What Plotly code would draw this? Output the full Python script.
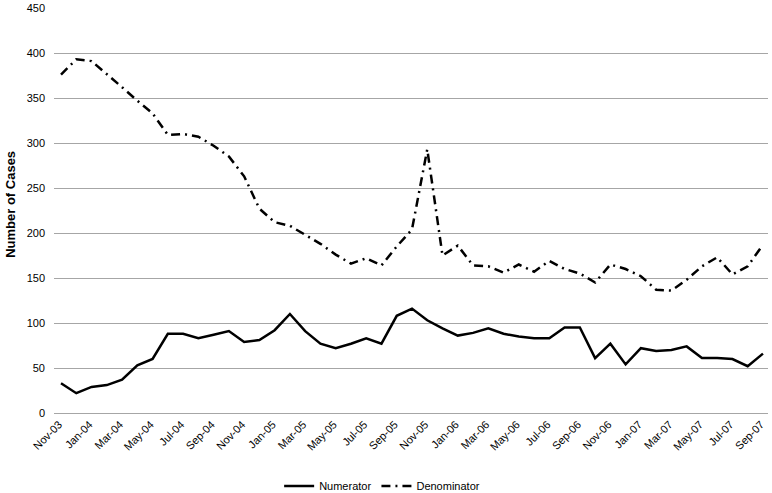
import plotly.graph_objects as go

months = ["Nov-03", "Dec-03", "Jan-04", "Feb-04", "Mar-04", "Apr-04", "May-04", "Jun-04",
          "Jul-04", "Aug-04", "Sep-04", "Oct-04", "Nov-04", "Dec-04", "Jan-05", "Feb-05",
          "Mar-05", "Apr-05", "May-05", "Jun-05", "Jul-05", "Aug-05", "Sep-05", "Oct-05",
          "Nov-05", "Dec-05", "Jan-06", "Feb-06", "Mar-06", "Apr-06", "May-06", "Jun-06",
          "Jul-06", "Aug-06", "Sep-06", "Oct-06", "Nov-06", "Dec-06", "Jan-07", "Feb-07",
          "Mar-07", "Apr-07", "May-07", "Jun-07", "Jul-07", "Aug-07", "Sep-07"]

numerator = [33, 22, 29, 31, 37, 53, 60, 88, 88, 83, 87, 91, 79, 81, 92, 110,
             91, 77, 72, 77, 83, 77, 108, 116, 103, 94, 86, 89, 94, 88, 85, 83,
             83, 95, 95, 61, 77, 54, 72, 69, 70, 74, 61, 61, 60, 52, 66]

denominator = [376, 393, 391, 377, 362, 347, 333, 309, 310, 307, 297, 285, 263, 227, 212, 208,
               198, 188, 176, 166, 172, 164, 185, 204, 293, 175, 186, 164, 163, 156, 165, 157,
               169, 160, 155, 145, 165, 160, 152, 137, 136, 148, 163, 173, 154, 163, 187]

tick_labels = months[::2]

x_idx = list(range(len(months)))
font_family = "Liberation Sans, Arial, sans-serif"

fig = go.Figure()
fig.add_trace(go.Scatter(
    x=x_idx, y=numerator, mode="lines", name="Numerator",
    line=dict(color="black", width=2.5),
))
fig.add_trace(go.Scatter(
    x=x_idx, y=denominator, mode="lines", name="Denominator",
    line=dict(color="black", width=2.5, dash="9px,5px,2px,5px"),
))

fig.update_layout(
    width=772, height=493,
    margin=dict(l=54, r=4, t=8, b=80, autoexpand=False),
    paper_bgcolor="white", plot_bgcolor="white",
    font=dict(family=font_family, size=11, color="black"),
    showlegend=True,
    legend=dict(orientation="h", xref="container", x=0.495, xanchor="center",
                y=-0.18, yanchor="middle",
                font=dict(size=11), itemwidth=30, bgcolor="rgba(0,0,0,0)"),
    xaxis=dict(
        range=[-0.46, 46.33], automargin=False,
        tickvals=x_idx[::2], ticktext=tick_labels,
        tickangle=-45, showgrid=False, zeroline=False,
        showline=False, ticks="", tickfont=dict(size=11),
        ticklabelshift=-2, ticklabelstandoff=2,
    ),
    yaxis=dict(
        range=[0, 450], dtick=50, showgrid=True, gridcolor="#a6a6a6", gridwidth=1,
        zeroline=True, zerolinecolor="#a6a6a6", zerolinewidth=1, automargin=False,
        showline=False, ticks="", tickfont=dict(size=11), ticklabelstandoff=8,
    ),
    annotations=[dict(
        text="<b>Number of Cases</b>", textangle=-90,
        xref="paper", yref="paper", x=0, y=0.514, xshift=-43,
        xanchor="center", yanchor="middle", showarrow=False,
        font=dict(size=13, family=font_family, color="black"),
    )],
)

fig.write_html("out.html", config={"displayModeBar": False},
               post_script="document.body.style.margin='0';")
